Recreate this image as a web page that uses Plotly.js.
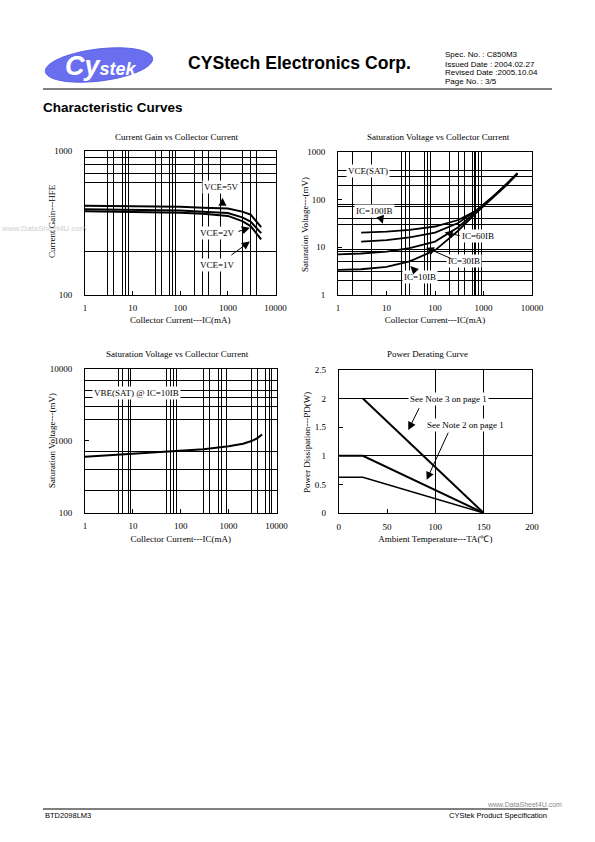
<!DOCTYPE html>
<html><head><meta charset="utf-8">
<script src="https://cdn.plot.ly/plotly-3.0.1.min.js"></script>
<style>html,body{margin:0;padding:0;background:#fff;}#chart{width:595px;height:842px;}</style>
</head><body><div id="chart"></div>
<script>
// ---------- tick labels ----------
const logTickVals = [1, 10, 100, 1000, 10000];
const logTickText = ['1', '10', '100', '1000', '10000'];
const hfeTickVals = [100, 1000];
const hfeTickText = ['100', '1000'];
const vceTickVals = [1, 10, 100, 1000];
const vceTickText = ['1', '10', '100', '1000'];
const vbeTickVals = [100, 1000, 10000];
const vbeTickText = ['100', '1000', '10000'];
const taTickVals = [0, 50, 100, 150, 200];
const taTickText = ['0', '50', '100', '150', '200'];
const pdTickVals = [0, 0.5, 1, 1.5, 2, 2.5];
const pdTickText = ['0', '0.5', '1', '1.5', '2', '2.5'];

// ---------- grid line values ----------
const grid1X = [3, 4, 6, 7, 8, 30, 40, 60, 70, 80, 200, 300, 400, 700, 2000, 3000, 4000];
const grid1Y = [200, 600, 700, 800, 900];
const grid2X = [2, 5, 20, 25, 30, 60, 70, 80, 200, 300, 400, 600, 650, 700, 800, 900];
const grid2Y = [2, 3, 5, 8, 9, 30, 40, 70, 80, 200, 300, 400];
const grid3X = [5, 6, 8, 9, 50, 60, 70, 80, 300, 400, 600, 700, 900, 3000, 4000, 6000, 7000, 8000];
const grid3Y = [200, 400, 700, 2000, 3000, 4000, 5000, 7000];
const grid4X = [100, 150];
const grid4Y = [1, 2];

// ---------- Chart 1: Current Gain vs Collector Current ----------
const icGain = [1, 10, 100, 300, 1000, 2000, 3000, 5000];
const hfeVce5V = [415, 413, 408, 403, 398, 378, 360, 295];
const hfeVce2V = [392, 390, 385, 378, 370, 345, 322, 268];
const hfeVce1V = [380, 378, 372, 365, 353, 325, 300, 242];

// ---------- Chart 2: VCE(SAT) vs Collector Current ----------
const icSat100 = [3, 10, 30, 100, 300, 700, 1500, 3000, 5000];
const vceSat100 = [20, 21, 23, 27, 37, 58, 110, 210, 360];
const icSat60 = [3, 10, 30, 100, 300, 700, 1500, 3000, 5000];
const vceSat60 = [13, 14, 16, 20, 32, 58, 110, 210, 355];
const icSat30 = [1, 3, 10, 30, 100, 300, 700, 1500, 3000, 5000];
const vceSat30 = [7, 7.3, 8, 9.5, 13, 26, 55, 108, 205, 350];
const icSat10 = [1, 3, 10, 30, 100, 300, 700, 1500, 3000, 5000];
const vceSat10 = [3.3, 3.4, 3.8, 5, 8.5, 22, 52, 105, 200, 345];

// ---------- Chart 3: VBE(SAT) vs Collector Current ----------
const icVbe = [1, 3, 10, 30, 100, 300, 1000, 2000, 3000, 4000, 5000];
const vbeSat = [600, 630, 660, 690, 720, 760, 840, 910, 990, 1090, 1220];

// ---------- Chart 4: Power Derating Curve ----------
const taNote3 = [25, 150];
const pdNote3 = [2, 0];
const taNote2 = [0, 25, 150];
const pdNote2 = [1, 1, 0];
const taBase = [0, 25, 150];
const pdBase = [0.625, 0.625, 0];

// ---------- helpers ----------
const SERIF = 'Liberation Serif, Times New Roman, serif';
const SANS = 'Liberation Sans, Arial, sans-serif';
const px = x => x / 595;
const py = y => 1 - y / 842;
const L = Math.log10;

function axis(o) {
  const a = Object.assign({
    showgrid: false, zeroline: false,
    showline: true, mirror: true, linecolor: '#000', linewidth: 1,
    ticks: 'inside', ticklen: 4, tickwidth: 1, tickcolor: '#000',
    tickmode: 'array',
    tickfont: {family: SERIF, size: 9, color: '#000'},
    fixedrange: true
  }, o);
  a.minor = {tickmode: 'array', tickvals: o.gridVals, showgrid: true, gridcolor: '#000', gridwidth: 1, ticks: ''};
  if (o.titleText) a.title = {text: o.titleText, font: {family: SERIF, size: 9, color: '#000'}, standoff: o.standoff};
  delete a.gridVals; delete a.titleText; delete a.standoff;
  return a;
}

const traces = [
  {x: icGain, y: hfeVce5V, xaxis: 'x', yaxis: 'y', mode: 'lines', line: {color: '#000', width: 2}, name: 'VCE=5V'},
  {x: icGain, y: hfeVce2V, xaxis: 'x', yaxis: 'y', mode: 'lines', line: {color: '#000', width: 2}, name: 'VCE=2V'},
  {x: icGain, y: hfeVce1V, xaxis: 'x', yaxis: 'y', mode: 'lines', line: {color: '#000', width: 2}, name: 'VCE=1V'},
  {x: icSat100, y: vceSat100, xaxis: 'x2', yaxis: 'y2', mode: 'lines', line: {color: '#000', width: 1.8}, name: 'IC=100IB'},
  {x: icSat60, y: vceSat60, xaxis: 'x2', yaxis: 'y2', mode: 'lines', line: {color: '#000', width: 1.8}, name: 'IC=60IB'},
  {x: icSat30, y: vceSat30, xaxis: 'x2', yaxis: 'y2', mode: 'lines', line: {color: '#000', width: 1.8}, name: 'IC=30IB'},
  {x: icSat10, y: vceSat10, xaxis: 'x2', yaxis: 'y2', mode: 'lines', line: {color: '#000', width: 1.8}, name: 'IC=10IB'},
  {x: icVbe, y: vbeSat, xaxis: 'x3', yaxis: 'y3', mode: 'lines', line: {color: '#000', width: 2}, name: 'VBE(SAT)'},
  {x: taNote3, y: pdNote3, xaxis: 'x4', yaxis: 'y4', mode: 'lines', line: {color: '#000', width: 2}, name: 'Note 3'},
  {x: taNote2, y: pdNote2, xaxis: 'x4', yaxis: 'y4', mode: 'lines', line: {color: '#000', width: 2}, name: 'Note 2'},
  {x: taBase, y: pdBase, xaxis: 'x4', yaxis: 'y4', mode: 'lines', line: {color: '#000', width: 1.5}, name: 'base'}
];

const d1x = [px(85), px(275.5)], d1y = [py(294.5), py(151)];
const d2x = [px(338), px(532)], d2y = [py(294.5), py(152)];
const d3x = [px(85), px(276.5)], d3y = [py(512.5), py(369)];
const d4x = [px(338.7), px(532)], d4y = [py(513), py(370)];

// tilted logo ellipse outline (decoration)
function ellipsePath(cx, cy, a, b, deg) {
  const t = deg * Math.PI / 180;
  let p = '';
  for (let i = 0; i <= 72; i++) {
    const u = i / 72 * 2 * Math.PI;
    const x = cx + a * Math.cos(u) * Math.cos(t) - b * Math.sin(u) * Math.sin(t);
    const y = cy - (a * Math.cos(u) * Math.sin(t) + b * Math.sin(u) * Math.cos(t));
    p += (i ? ' L ' : 'M ') + px(x).toFixed(5) + ',' + py(y).toFixed(5);
  }
  return p + ' Z';
}

const layout = {
  width: 595, height: 842, margin: {l: 0, r: 0, t: 0, b: 0},
  paper_bgcolor: '#fff', plot_bgcolor: '#fff', showlegend: false,
  font: {family: SERIF, size: 9, color: '#000'},
  xaxis: axis({type: 'log', domain: d1x, range: [0, 4], anchor: 'y', tickvals: logTickVals, ticktext: logTickText, ticklabelstandoff: 5, gridVals: grid1X, titleText: 'Collector Current---IC(mA)', standoff: 4}),
  yaxis: axis({type: 'log', domain: d1y, range: [2, 3], anchor: 'x', tickvals: hfeTickVals, ticktext: hfeTickText, ticklabelstandoff: 10, gridVals: grid1Y}),
  xaxis2: axis({type: 'log', domain: d2x, range: [0, 4], anchor: 'y2', tickvals: logTickVals, ticktext: logTickText, ticklabelstandoff: 5, gridVals: grid2X, titleText: 'Collector Current---IC(mA)', standoff: 4}),
  yaxis2: axis({type: 'log', domain: d2y, range: [0, 3], anchor: 'x2', tickvals: vceTickVals, ticktext: vceTickText, ticklabelstandoff: 10, gridVals: grid2Y}),
  xaxis3: axis({type: 'log', domain: d3x, range: [0, 4], anchor: 'y3', tickvals: logTickVals, ticktext: logTickText, ticklabelstandoff: 5, gridVals: grid3X, titleText: 'Collector Current---IC(mA)', standoff: 5}),
  yaxis3: axis({type: 'log', domain: d3y, range: [2, 4], anchor: 'x3', tickvals: vbeTickVals, ticktext: vbeTickText, ticklabelstandoff: 10, gridVals: grid3Y}),
  xaxis4: axis({type: 'linear', domain: d4x, range: [0, 200], anchor: 'y4', tickvals: taTickVals, ticktext: taTickText, ticklabelstandoff: 5, gridVals: grid4X, titleText: 'Ambient Temperature---TA(\u2103)', standoff: 4}),
  yaxis4: axis({type: 'linear', domain: d4y, range: [0, 2.5], anchor: 'x4', tickvals: pdTickVals, ticktext: pdTickText, ticklabelstandoff: 10, gridVals: grid4Y}),
  shapes: [
    {type: 'path', xref: 'paper', yref: 'paper', path: ellipsePath(99, 65, 54, 16, 7), fillcolor: '#6a6ff0', line: {color: '#5a5fe0', width: 1}},
    {type: 'line', xref: 'paper', yref: 'paper', x0: px(43), x1: px(552), y0: py(89), y1: py(89), line: {color: '#000', width: 1}},
    {type: 'line', xref: 'paper', yref: 'paper', x0: px(43), x1: px(548), y0: py(809), y1: py(809), line: {color: '#000', width: 1}}
  ],
  annotations: []
};

const A = layout.annotations;
function ptext(text, x, y, size, opts) {
  A.push(Object.assign({xref: 'paper', yref: 'paper', x: px(x), y: py(y), text: text, showarrow: false,
    xanchor: 'left', yanchor: 'middle', borderpad: 0, font: {family: SANS, size: size, color: '#000'}}, opts || {}));
}
// header
ptext('<b><i>Cy</i></b><b><i><span style="font-size:18px">stek</span></i></b>', 101, 66, 27, {xanchor: 'center', font: {family: SANS, size: 27, color: '#fff'}});
ptext('<b>CYStech Electronics Corp.</b>', 187, 63, 17.6);
ptext('Spec. No. : C850M3', 444, 55, 8);
ptext('Issued Date : 2004.02.27', 444, 64, 8);
ptext('Revised Date :2005.10.04', 444, 73, 8);
ptext('Page No. : 3/5', 444, 82, 8);
ptext('<b>Characteristic Curves</b>', 42, 108, 13.5);
ptext('BTD2098LM3', 44, 815, 7.5);
ptext('CYStek Product Specification', 548, 815, 7.5, {xanchor: 'right'});
ptext('www.DataSheet4U.com', 563, 804, 7, {xanchor: 'right', font: {family: SANS, size: 7, color: '#8a8a8a'}});
ptext('www.DataSheet4U.com', 0, 228, 8, {font: {family: SANS, size: 8, color: '#cfcfcf'}});

// chart titles
function ctitle(text, x, y) {
  A.push({xref: 'paper', yref: 'paper', x: px(x), y: py(y), text: text, showarrow: false,
    xanchor: 'center', yanchor: 'middle', font: {family: SERIF, size: 9, color: '#000'}});
}
ctitle('Current Gain vs Collector Current', 176, 137);
ctitle('Saturation Voltage vs Collector Current', 438, 137);
ctitle('Saturation Voltage vs Collector Current', 177, 354);
ctitle('Power Derating Curve', 427, 354);

// y-axis titles (rotated)
function ytitle(text, x, y) {
  A.push({xref: 'paper', yref: 'paper', x: px(x), y: py(y), text: text, showarrow: false, textangle: -90,
    xanchor: 'center', yanchor: 'middle', font: {family: SERIF, size: 9, color: '#000'}});
}
ytitle('Current Gain---HFE', 52, 221);
ytitle('Saturation Voltage---(mV)', 305, 225);
ytitle('Saturation Voltage---(mV)', 52, 441);
ytitle('Power Dissipation---PD(W)', 307, 443);

// in-plot labels and arrows
function label(xa, ya, text, x, y) {
  A.push({xref: xa, yref: ya, x: x, y: y, text: text, showarrow: false, bgcolor: '#fff', borderpad: 1,
    font: {family: SERIF, size: 9, color: '#000'}});
}
function arrow(xa, ya, hx, hy, tx, ty) {
  A.push({xref: xa, yref: ya, x: hx, y: hy, axref: xa, ayref: ya, ax: tx, ay: ty, text: '', showarrow: true,
    arrowhead: 2, arrowsize: 1.6, arrowwidth: 1, arrowcolor: '#000', standoff: 0, startstandoff: 0});
}
// chart 1
label('x', 'y', 'VCE=5V', L(750), L(561));
arrow('x', 'y', L(770), L(472), L(770), L(412));
label('x', 'y', 'VCE=2V', L(620), L(268));
arrow('x', 'y', L(2900), L(292), L(1550), L(273));
label('x', 'y', 'VCE=1V', L(600), L(161));
arrow('x', 'y', L(2900), L(234), L(1100), L(185));
// chart 2
label('x2', 'y2', 'VCE(SAT)', L(4.2), L(390));
label('x2', 'y2', 'IC=100IB', L(5.6), L(57));
arrow('x2', 'y2', L(8.4), L(31), L(7.4), L(45));
label('x2', 'y2', 'IC=60IB', L(770), L(17));
arrow('x2', 'y2', L(158), L(20.2), L(347), L(17.1));
label('x2', 'y2', 'IC=30IB', L(396), L(5.07));
arrow('x2', 'y2', L(65), L(9.7), L(235), L(5.5));
label('x2', 'y2', 'IC=10IB', L(49), L(2.33));
arrow('x2', 'y2', L(31), L(3.96), L(43), L(2.84));
// chart 3
label('x3', 'y3', 'VBE(SAT) @ IC=10IB', L(12), L(4600));
// chart 4
label('x4', 'y4', 'See Note 3 on page 1', 114, 2.0);
arrow('x4', 'y4', 72, 1.45, 84, 1.86);
label('x4', 'y4', 'See Note 2 on page 1', 131, 1.53);
arrow('x4', 'y4', 91, 0.58, 114, 1.43);

Plotly.newPlot('chart', traces, layout, {staticPlot: true, displayModeBar: false});
</script></body></html>
